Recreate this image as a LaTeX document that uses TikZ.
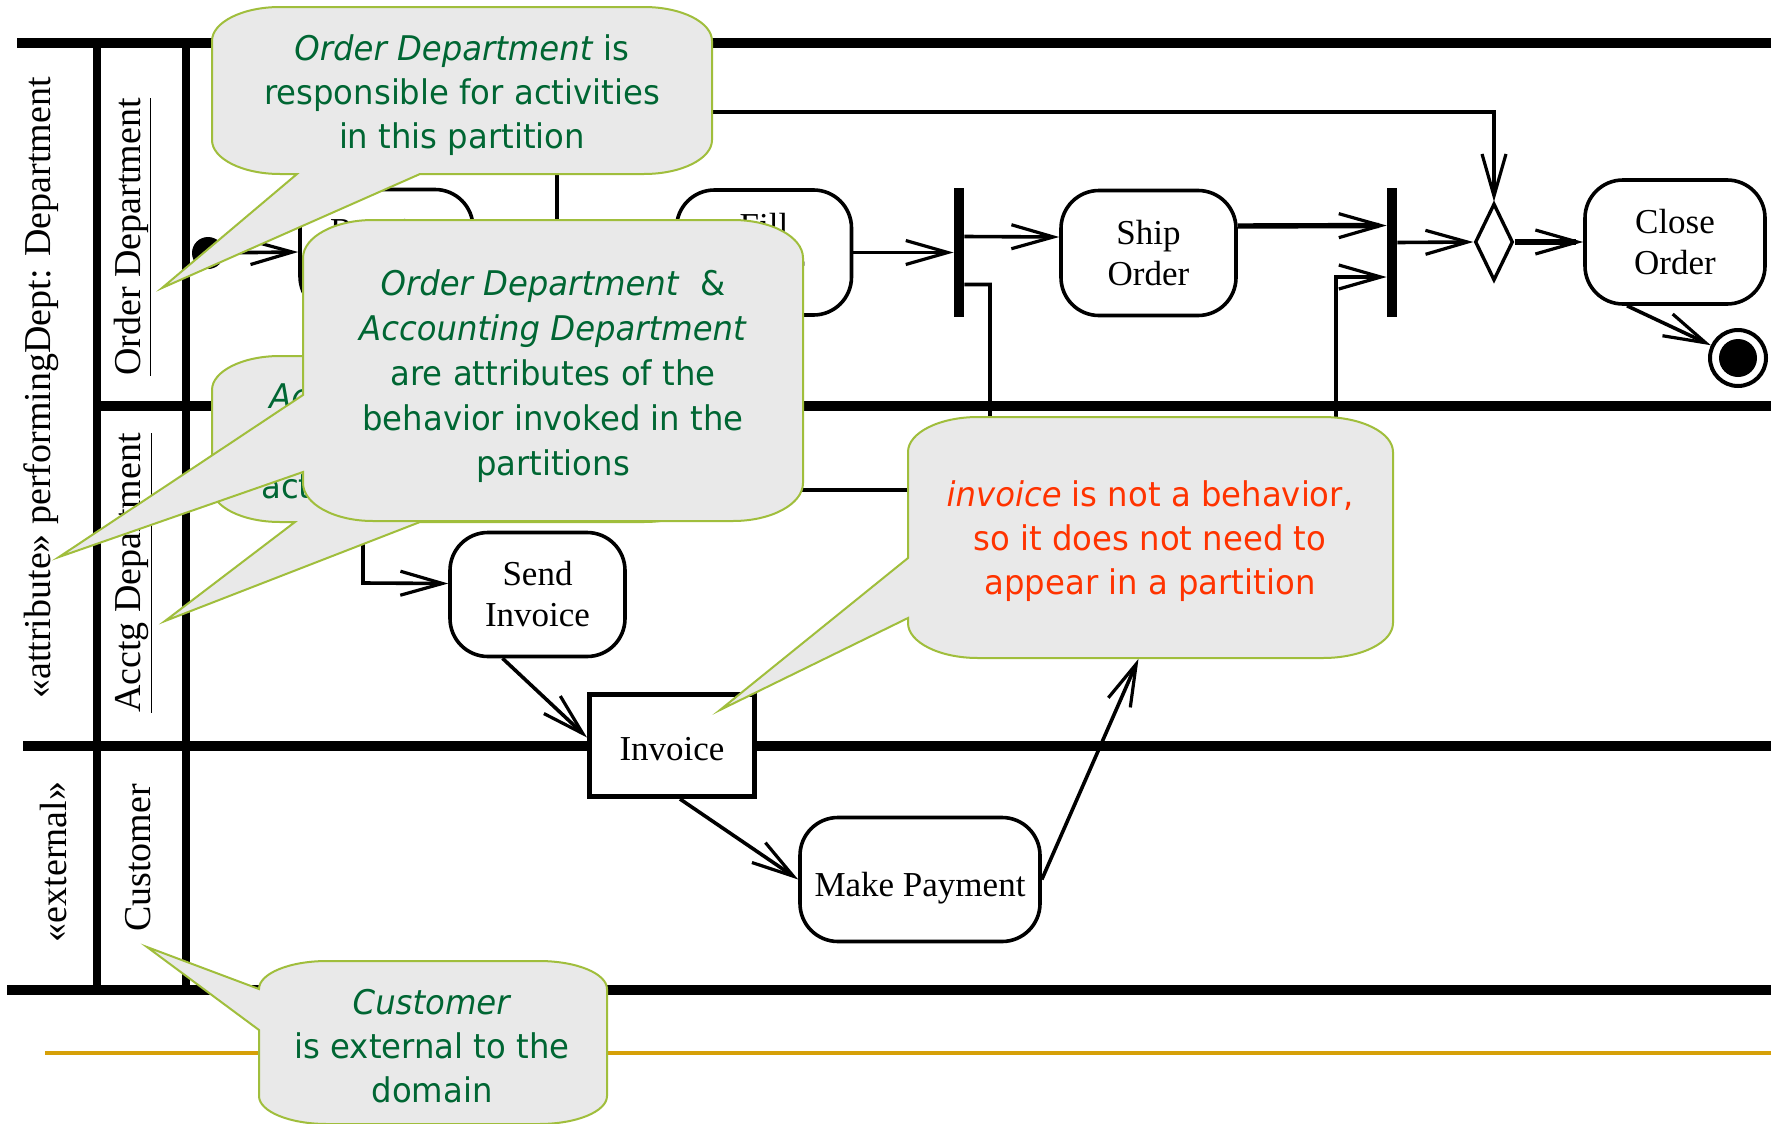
\documentclass[tikz,border=0pt]{standalone}
\usepackage{fontspec}
\setmainfont{Liberation Serif}
\newfontfamily\notefont[FakeStretch=0.95]{DejaVu Sans}
\usetikzlibrary{arrows.meta,calc,shapes.geometric}

\definecolor{notefill}{RGB}{233,233,233}
\definecolor{noteedge}{RGB}{160,190,60}
\definecolor{notegreen}{RGB}{0,102,51}
\definecolor{notered}{RGB}{255,51,0}
\definecolor{rulegold}{RGB}{214,160,8}

\begin{document}
\begin{tikzpicture}[x=0.5pt,y=-0.5pt,
  lane/.style={line width=5pt},
  lanev/.style={line width=4.2pt},
  lbl/.style={font=\fontsize{19}{22}\selectfont, inner sep=0pt},
  boxtext/.style={align=center, inner sep=0pt, font=\fontsize{17.5}{20.5}\selectfont},
  action/.style={draw, fill=white, line width=1.8pt, rounded corners=19pt,
    minimum width=87.5pt, minimum height=62.5pt, boxtext},
  objbox/.style={draw, fill=white, line width=2.5pt, minimum width=82.5pt,
    minimum height=51pt, boxtext},
  bar/.style={fill, minimum width=5pt, minimum height=64.5pt, inner sep=0pt},
  choice/.style={diamond, draw, fill=white, line width=1.7pt, inner sep=0pt},
  flow/.style={line width=1.8pt, -{Straight Barb[length=21pt,width=12pt,line width=1.6pt]}},
  heavy/.style={line width=2.7pt},
  note/.style={fill=notefill, draw=noteedge, line width=1pt},
  notetext/.style={font=\notefont\fontsize{17}{22}\selectfont, text=notegreen,
    align=center, inner sep=0pt},
]
\useasboundingbox (0,0) rectangle (1778,1124);
\fill[white] (0,0) rectangle (1778,1124);

% swimlane frame
\draw[lane] (17,43) -- (1771,43);
\draw[lane] (97,406) -- (1771,406);
\draw[lane] (23,746) -- (1771,746);
\draw[lane] (7,990) -- (1771,990);
\draw[lanev] (97,43) -- (97,990);
\draw[lanev] (186,43) -- (186,990);
\draw[rulegold, line width=2pt] (45,1053) -- (1771,1053);

% partition headers
\node[lbl, rotate=90, anchor=base] (dimAttr) at (50,388) {«attribute» performingDept: Department};
\node[lbl, rotate=90, anchor=base] (dimExt) at (66,862) {«external»};
\node[lbl, rotate=90, anchor=base] (laneOrder) at (140,237) {\underline{Order Department}};
\node[lbl, rotate=90, anchor=base] (laneAcctg) at (140,573) {\underline{Acctg Department}};
\node[lbl, rotate=90, anchor=base] (laneCust) at (150,858) {Customer};

% activity nodes
\node[circle, fill, minimum size=16pt, inner sep=0pt] (start) at (208,253) {};
\node[action, minimum width=86.5pt] (recv) at (386.5,252) {Receive\\Order};
\node[choice, minimum width=16pt, minimum height=28pt] (decide) at (557,252) {};
\node[action] (fill) at (764,252.5) {};
\node[boxtext] (fillText) at ($(fill.center)+(0,-6)$) {Fill\\Order};
\node[bar] (fork) at (959,252.5) {};
\node[action] (ship) at (1148.5,253) {Ship\\Order};
\node[bar] (join) at (1392,252.5) {};
\node[choice, minimum width=19pt, minimum height=38.5pt] (merge) at (1494,242) {};
\node[action, minimum width=90pt, minimum height=62pt] (close) at (1675,242) {Close\\Order};
\node[circle, draw, line width=2pt, minimum size=28pt, inner sep=0pt] (final) at (1738,358) {};
\fill (final.center) circle[radius=9.5pt];

\node[action, minimum height=62pt] (send) at (537.5,594.5) {Send\\Invoice};
\node[action, minimum height=62pt] (accept) at (1164.5,595) {};
\node[objbox] (invoice) at (672,745.5) {};
\node[boxtext] (invoiceText) at ($(invoice.center)+(0,4)$) {Invoice};
\node[action, minimum width=120pt, minimum height=62pt] (pay) at (920,879.5) {};
\node[boxtext] (payText) at ($(pay.center)+(0,9)$) {Make Payment};

% bend points
\coordinate (topturn) at (1494,112);
\coordinate (forkdrop) at (990,490);
\coordinate (sendbend) at (363,583);
\coordinate (acceptup) at (1336,277);

% control flows
\draw[flow] (start) -- (recv.west);
\draw[flow] (recv.east) -- (decide.west);
\draw[flow] (decide.east) -- (fill.west);
\draw[flow] (decide.north) |- (topturn) -- (merge.north);
\draw[flow] (fill.east) -- (fork.west);
\draw[flow] ($(fork.east)+(0,-16)$) -- ($(ship.west)+(0,-16)$);
\draw[flow, heavy] ($(ship.east)+(0,-27)$) -- ($(join.west)+(0,-27)$);
\draw[flow] ($(join.east)+(0,-10)$) -- (merge.west);
\draw[flow, heavy] (merge.east) -- (close.west);
\draw[flow] ($(close.south)+(-48,0)$) -- (final);
\draw[flow] ($(fork.east)+(0,32)$) -| (forkdrop) -| (sendbend) -- ($(send.west)+(0,-11)$);
\draw[flow] ($(send.south)+(-35,0)$) -- ($(invoice.west)+(0,-8)$);
\draw[flow] ($(invoice.south)+(8,0)$) -- (pay.west);
\draw[flow] (pay.east) -- ($(accept.south)+(-26,0)$);
\draw[flow] (accept.east) -| (acceptup) -- ($(join.west)+(0,24.5)$);

% note: accounting partition (mostly covered)
\draw[note] (212,390) .. controls (212,371.2) and (242.5,356) .. (280,356)
  -- (644,356) .. controls (681.5,356) and (712,371.2) .. (712,390)
  -- (712,488) .. controls (712,506.8) and (681.5,522) .. (644,522)
  -- (420,522) -- (165,621) -- (295,522)
  -- (280,522) .. controls (242.5,522) and (212,506.8) .. (212,488) -- cycle;
\node[notetext, anchor=base west] (acctgA) at (269,408) {\textit{Ac}};
\node[notetext, anchor=base west] (acctgB) at (261,498) {act};

% note: attributes
\draw[note] (303,258) .. controls (303,237) and (334.4,220) .. (373,220)
  -- (733,220) .. controls (771.6,220) and (803,237) .. (803,258)
  -- (803,483) .. controls (803,504) and (771.6,521) .. (733,521)
  -- (373,521) .. controls (334.4,521) and (303,504) .. (303,483)
  -- (303,472) -- (59,557) -- (303,395) -- cycle;
\node[notetext, font=\notefont\fontsize{17}{22.5}\selectfont] (attrText) at (553,376)
  {\textit{Order Department}\ \ \&\\\textit{Accounting Department}\\are attributes of the\\behavior invoked in the\\partitions};

% note: order department
\draw[note] (212,41) .. controls (212,22.2) and (242.5,7) .. (280,7)
  -- (644,7) .. controls (681.5,7) and (712,22.2) .. (712,41)
  -- (712,140) .. controls (712,158.8) and (681.5,174) .. (644,174)
  -- (420,174) -- (162,288) -- (297,174)
  -- (280,174) .. controls (242.5,174) and (212,158.8) .. (212,140) -- cycle;
\node[notetext] (orderText) at (462,95)
  {\textit{Order Department} is\\responsible for activities\\in this partition};

% note: invoice
\draw[note] (908,452) .. controls (908,432.7) and (939.4,417) .. (978,417)
  -- (1323,417) .. controls (1361.6,417) and (1393,432.7) .. (1393,452)
  -- (1393,623) .. controls (1393,642.3) and (1361.6,658) .. (1323,658)
  -- (978,658) .. controls (939.4,658) and (908,642.3) .. (908,623)
  -- (908,618) -- (720,710) -- (908,558) -- cycle;
\node[notetext, text=notered] (invText) at (1150,541)
  {\textit{invoice} is not a behavior,\\so it does not need to\\appear in a partition};

% note: customer
\draw[note] (259,989) .. controls (259,973.5) and (289.5,961) .. (327,961)
  -- (539,961) .. controls (576.5,961) and (607,973.5) .. (607,989)
  -- (607,1096) .. controls (607,1111.5) and (576.5,1124) .. (539,1124)
  -- (327,1124) .. controls (289.5,1124) and (259,1111.5) .. (259,1096)
  -- (259,1030) -- (147,947) -- cycle;
\node[notetext] (custText) at (432,1046)
  {\textit{Customer}\\is external to the\\domain};
\end{tikzpicture}
\end{document}
